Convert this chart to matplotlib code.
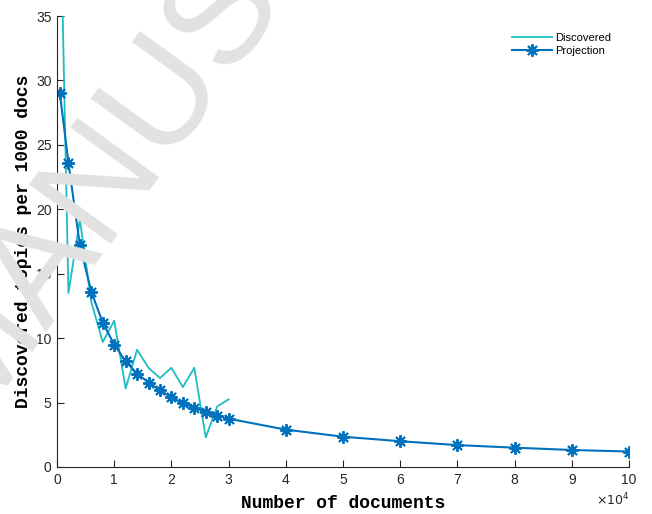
import numpy as np
import matplotlib.pyplot as plt

# Discovered values (every 2000 docs, plus first point at 1000)
disc_x = [1000, 2000, 4000, 6000, 8000, 10000, 12000, 14000, 16000,
          18000, 20000, 22000, 24000, 26000, 28000, 30000]
disc_y = [35.0, 13.5, 19.2, 12.8, 9.7, 11.35, 6.1, 9.1, 7.7,
          6.9, 7.7, 6.2, 7.7, 2.3, 4.7, 5.25]

# Projection curve
proj_x = [500, 2000, 4000, 6000, 8000, 10000, 12000, 14000, 16000, 18000,
          20000, 22000, 24000, 26000, 28000, 30000, 40000, 50000, 60000,
          70000, 80000, 90000, 100000]
proj_y = [29.0, 23.6, 17.2, 13.6, 11.2, 9.5, 8.2, 7.25, 6.55, 5.95,
          5.4, 4.95, 4.6, 4.25, 3.95, 3.75, 2.9, 2.35, 2.0,
          1.7, 1.5, 1.32, 1.2]

xticks = np.arange(0, 110000, 10000)
yticks = [0, 5, 10, 15, 20, 25, 30, 35]

plt.rcParams['font.family'] = 'Liberation Sans'

fig = plt.figure(figsize=(6.52, 5.14), dpi=100)
ax = fig.add_axes([57/652, 47/514, (629-57)/652, (467-16)/514])

ax.plot(disc_x, disc_y, '-', color='#1dbdc0', linewidth=1.3, label='Discovered')
ax.plot(proj_x, proj_y, '-', color='#0072bd', linewidth=1.5,
        marker=(8, 2, 0), markersize=9, markeredgewidth=1.4, label='Projection')

ax.set_xlim(0, 100000)
ax.set_ylim(0, 35)
ax.set_xticks(xticks)
ax.set_xticklabels([str(int(v / 10000)) for v in xticks])
ax.set_yticks(yticks)
ax.tick_params(direction='in', length=5, width=0.8, labelsize=10,
               colors='#262626', pad=4)
for s in ['top', 'right']:
    ax.spines[s].set_visible(False)
for s in ['left', 'bottom']:
    ax.spines[s].set_color('#262626')
    ax.spines[s].set_linewidth(0.8)

ax.text(1.0, -0.055, r'$\times10^4$', transform=ax.transAxes, ha='right',
        va='top', fontsize=9, color='#262626')

ax.set_xlabel('Number of documents', family='Liberation Mono',
              fontweight='bold', fontsize=13, labelpad=6)
ax.set_ylabel('Discovered topics per 1000 docs', family='Liberation Mono',
              fontweight='bold', fontsize=13, labelpad=3)

ax.legend(loc='upper right', frameon=False, fontsize=8, handlelength=3.6,
          handletextpad=0.3, labelspacing=0.25, bbox_to_anchor=(0.987, 0.985))

# watermark
fig.text(-0.046, 0.181, 'MANUSCRIPT', rotation=54, fontsize=106,
         color='#e2e2e2', ha='left', va='baseline', zorder=10,
         family='Liberation Sans', rotation_mode='anchor')

fig.savefig('out.png', dpi=100)
